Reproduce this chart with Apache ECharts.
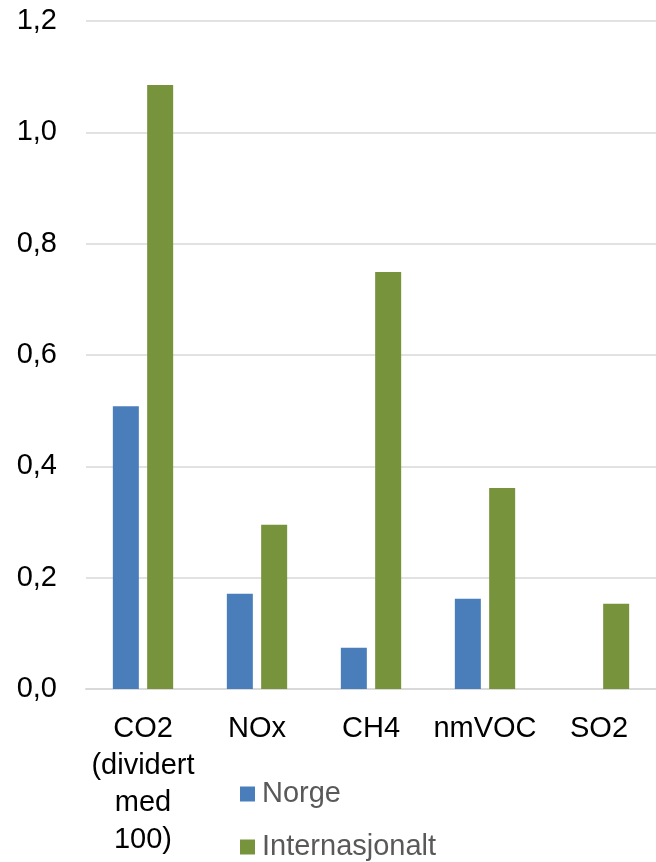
<!DOCTYPE html>
<html><head><meta charset="utf-8">
<script src="https://cdn.jsdelivr.net/npm/echarts@6/dist/echarts.min.js"></script>
<style>html,body{margin:0;padding:0;background:#fff}#c{width:656px;height:862px}</style>
</head><body><div id="c"></div>
<script>
const categories = ["CO2\n(dividert\nmed\n100)", "NOx", "CH4", "nmVOC", "SO2"];
const norge = [0.508, 0.171, 0.074, 0.162, 0];
const internasjonalt = [1.085, 0.295, 0.749, 0.361, 0.153];
const seriesNames = ["Norge", "Internasjonalt"];

const legendBase = {
  orient: 'vertical', left: 240, padding: 0,
  itemWidth: 15, itemHeight: 15,
  icon: 'rect',
  textStyle: {fontSize: 29, color: '#595959', padding: [0,0,0,2], lineHeight: 30}
};

const chart = echarts.init(document.getElementById('c'), null, {renderer: 'canvas'});
chart.setOption({
  animation: false,
  textStyle: {fontFamily: 'Liberation Sans, Arial, sans-serif'},
  grid: {left: 86, right: -5, top: 21, bottom: 173, containLabel: false},
  legend: [
    Object.assign({}, legendBase, {top: 779, data: [seriesNames[0]]}),
    Object.assign({}, legendBase, {top: 832, data: [seriesNames[1]]})
  ],
  xAxis: {
    type: 'category', data: categories,
    axisLine: {lineStyle: {color: '#d9d9d9', width: 2}},
    axisTick: {show: false},
    axisLabel: {fontSize: 29, color: '#000', lineHeight: 37, margin: 21, interval: 0}
  },
  yAxis: {
    type: 'value', min: 0, max: 1.2, interval: 0.2,
    axisLine: {show: false}, axisTick: {show: false},
    splitLine: {lineStyle: {color: '#d9d9d9', width: 1.5}},
    axisLabel: {fontSize: 29, color: '#000', margin: 29,
      formatter: v => v.toFixed(1).replace('.', ',')}
  },
  series: [
    {name: seriesNames[0], type: 'bar', data: norge, barWidth: 26, barGap: '32%',
     itemStyle: {color: '#4a7ebb'}},
    {name: seriesNames[1], type: 'bar', data: internasjonalt, barWidth: 26,
     itemStyle: {color: '#77933c'}}
  ]
});
</script></body></html>
